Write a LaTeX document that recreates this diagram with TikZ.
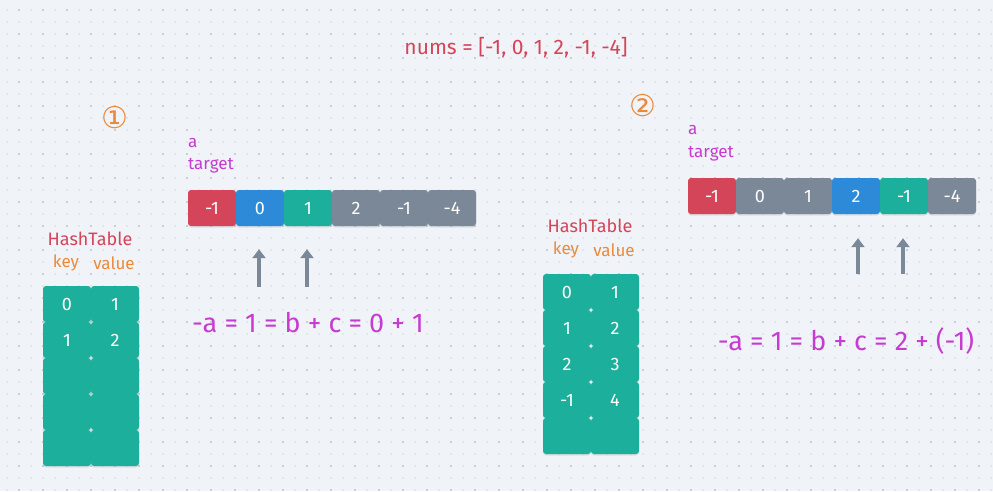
\documentclass[tikz,border=0pt]{standalone}
\usepackage{fontspec}
\setmainfont{Fira Sans}
\newfontfamily\circfont{DejaVu Sans}
\usetikzlibrary{arrows.meta,positioning,shadows,calc}
\definecolor{paper}{HTML}{F0F3F7}
\definecolor{dotfaint}{HTML}{E2E6EC}
\definecolor{dotdark}{HTML}{C9CED6}
\definecolor{cred}{HTML}{D4455A}
\definecolor{cblue}{HTML}{2D8AD9}
\definecolor{cteal}{HTML}{1BAF9C}
\definecolor{cgray}{HTML}{7A8897}
\definecolor{cmag}{HTML}{C63BD0}
\definecolor{corange}{HTML}{EC8A3C}
\tikzset{
  cell/.style={rounded corners=3pt, minimum width=48pt, minimum height=36pt,
    inner sep=0pt, text=white, font=\fontsize{18}{18}\selectfont,
    drop shadow={opacity=0.18, shadow xshift=0pt, shadow yshift=-1.5pt}},
  pointer/.style={cgray, line width=4pt,
    -{Triangle[width=13pt,length=9pt]}},
  varlabel/.style={cmag, anchor=west, inner sep=0pt, font=\fontsize{17}{17}\selectfont},
  tablabel/.style={cred, inner sep=0pt, font=\fontsize{18}{18}\selectfont},
  collabel/.style={corange, inner sep=0pt, font=\fontsize{17}{17}\selectfont},
  eqlabel/.style={cmag, inner sep=0pt, font=\fontsize{27}{27}\selectfont},
  steplabel/.style={corange, inner sep=0pt, font=\circfont\fontsize{30}{30}\selectfont},
}
\begin{document}
\begin{tikzpicture}[x=1pt, y=-1pt]
\fill[paper] (0,0) rectangle (993,491);
\useasboundingbox (0,0) rectangle (993,491);
% dotted paper
\foreach \x in {7,19,...,991}
  \foreach \y in {10,22,...,490}
    \fill[dotfaint] (\x-1,\y-1) rectangle +(2,2);
\foreach \x in {19,43,...,991}
  \foreach \y in {10,34,...,490}
    \fill[dotdark] (\x-1,\y-1) rectangle +(2,2);

\node[cred, inner sep=0pt, font=\fontsize{21}{21}\selectfont] (nums) at (516,48) {nums = [-1, 0, 1, 2, -1, -4]};

% step 1
\node[steplabel] (one) at (115,118) {①};
\node[varlabel] (la) at (188,143) {a};
\node[varlabel] (ltarget) at (188,166) {target};
\foreach \v/\c [count=\i from 0] in {-1/cred,0/cblue,1/cteal,2/cgray,-1/cgray,-4/cgray}
  \node[cell, fill=\c] (lc\i) at (212+48*\i,208) {\v};
\coordinate (lb) at ($(lc1.south)+(-1,61)$);
\coordinate (lcc) at ($(lc2.south)+(-1,61)$);
\draw[pointer] (lb) -- ($(lc1.south)+(-1,23)$);
\draw[pointer] (lcc) -- ($(lc2.south)+(-1,23)$);
\node[eqlabel] (leq) at (308,323) {-a = 1 = b + c = 0 + 1};

\node[tablabel] (lhash) at (90,239) {HashTable};
\node[collabel] (lkey) at (66,263) {key};
\node[collabel] (lval) at (114,263) {value};
\foreach \k/\v [count=\j from 0] in {0/1,1/2,{}/{},{}/{},{}/{}} {
  \node[cell, fill=cteal] (lk\j) at (67,304+36*\j) {\k};
  \node[cell, fill=cteal] (lv\j) at (115,304+36*\j) {\v};
}

% step 2
\node[steplabel] (two) at (643,106) {②};
\node[varlabel] (ra) at (688,130) {a};
\node[varlabel] (rtarget) at (688,154) {target};
\foreach \v/\c [count=\i from 0] in {-1/cred,0/cgray,1/cgray,2/cblue,-1/cteal,-4/cgray}
  \node[cell, fill=\c] (rc\i) at (712+48*\i,196) {\v};
\coordinate (rb) at ($(rc3.south)+(2,60)$);
\coordinate (rcc) at ($(rc4.south)+(-1,60)$);
\draw[pointer] (rb) -- ($(rc3.south)+(2,24)$);
\draw[pointer] (rcc) -- ($(rc4.south)+(-1,24)$);
\node[eqlabel] (req) at (846,341) {-a = 1 = b + c = 2 + (-1)};

\node[tablabel] (rhash) at (590,226) {HashTable};
\node[collabel] (rkey) at (566,250) {key};
\node[collabel] (rval) at (614,250) {value};
\foreach \k/\v [count=\j from 0] in {0/1,1/2,2/3,-1/4,{}/{}} {
  \node[cell, fill=cteal] (rk\j) at (567,292+36*\j) {\k};
  \node[cell, fill=cteal] (rv\j) at (615,292+36*\j) {\v};
}
\end{tikzpicture}
\end{document}
